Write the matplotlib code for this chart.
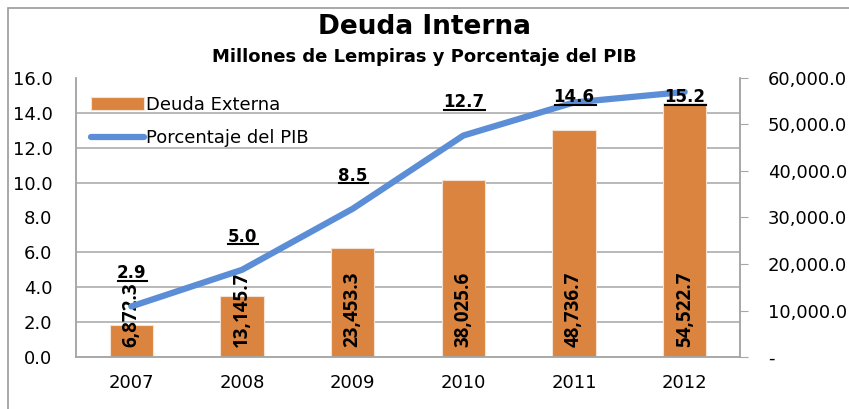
import matplotlib.pyplot as plt
from matplotlib.ticker import MultipleLocator, FuncFormatter
from matplotlib.patches import Rectangle
from matplotlib.lines import Line2D

plt.rcParams['font.family'] = ['DejaVu Sans']

# datos
anios = ['2007', '2008', '2009', '2010', '2011', '2012']
deuda = [6872.3, 13145.7, 23453.3, 38025.6, 48736.7, 54522.7]
pct_pib = [2.9, 5.0, 8.5, 12.7, 14.6, 15.2]

naranja = '#DA843F'
azul = '#5B8ED6'
gris = '#A6A6A6'
fs = 13

fig = plt.figure(figsize=(8.49, 4.09), dpi=100)
fig.patches.append(Rectangle((8 / 849, -0.1), 1.2, 1 - 8 / 409 + 0.1,
                             transform=fig.transFigure, fill=False,
                             edgecolor='#9A9A9A', linewidth=1.2))

ax = fig.add_axes([76 / 849, 1 - 357 / 409, (740 - 76) / 849, (357 - 78) / 409])
ax2 = ax.twinx()
# la linea va encima de las barras
ax.set_zorder(ax2.get_zorder() + 1)
ax.patch.set_visible(False)

x = range(len(anios))

# barras (eje derecho)
ax2.bar(x, deuda, width=0.39, color=naranja, edgecolor='#F3E3D6', linewidth=0.8,
        zorder=2, label='Deuda Externa')
ax2.set_ylim(0, 60000)
ax2.yaxis.set_major_locator(MultipleLocator(10000))
ax2.yaxis.set_minor_locator(MultipleLocator(7500))
ax2.yaxis.set_major_formatter(FuncFormatter(lambda v, p: '-' if v == 0 else f'{v:,.1f}'))
ax2.tick_params(axis='y', which='major', direction='out', length=6, color=gris,
                labelsize=fs, pad=14)
ax2.tick_params(axis='y', which='minor', length=0)
ax2.grid(axis='y', which='minor', color=gris, linewidth=1.1, zorder=0)
ax2.set_axisbelow(True)

for xi, v in zip(x, deuda):
    ax2.text(xi, 2100, f'{v:,.1f}', rotation=90, ha='center', va='bottom',
             fontsize=13.5, fontweight='bold', family='Open Sans', zorder=3)

# linea (eje izquierdo)
ax.plot(x, pct_pib, color=azul, linewidth=4.5, solid_capstyle='round',
        label='Porcentaje del PIB', zorder=4)
ax.set_ylim(0, 16)
ax.set_xlim(-0.5, len(anios) - 0.5)
ax.yaxis.set_major_locator(MultipleLocator(2))
ax.yaxis.set_major_formatter(FuncFormatter(lambda v, p: f'{v:.1f}'))
ax.tick_params(axis='y', length=0, labelsize=fs, pad=17)
ax.set_xticks(list(x))
ax.set_xticklabels(anios)
ax.tick_params(axis='x', length=0, labelsize=fs, pad=12)

# etiquetas sobre la linea, sin salir del area del grafico
etiquetas = []
for xi, v in zip(x, pct_pib):
    t = ax.text(xi, min(v + 1.9, 14.9), f'{v:.1f}', ha='center', va='center',
                fontsize=12, fontweight='bold', zorder=5)
    etiquetas.append(t)

for a in (ax, ax2):
    for s in a.spines.values():
        s.set_color(gris)
        s.set_linewidth(1.1)
    a.spines['top'].set_visible(False)

# leyenda
h1, l1 = ax2.get_legend_handles_labels()
h2, l2 = ax.get_legend_handles_labels()
ax.legend(h1 + h2, l1 + l2, loc='upper left', bbox_to_anchor=(0.012, 0.962),
          frameon=False, fontsize=fs, handlelength=2.9, handletextpad=0.15,
          labelspacing=0.85, borderaxespad=0)

fig.text(0.5, 0.935, 'Deuda Interna', ha='center', va='center', fontsize=19,
         fontweight='bold')
fig.text(0.5, 0.86, 'Millones de Lempiras y Porcentaje del PIB', ha='center',
         va='center', fontsize=13, fontweight='bold')

# subrayado de etiquetas
fig.canvas.draw()
for t in etiquetas:
    bb = t.get_window_extent()
    fig.lines.append(Line2D([bb.x0 + 1, bb.x1 + 1], [bb.y0 + 1.5, bb.y0 + 1.5],
                            transform=None, color='black', linewidth=1.5))

fig.savefig('out.png', dpi=100)
